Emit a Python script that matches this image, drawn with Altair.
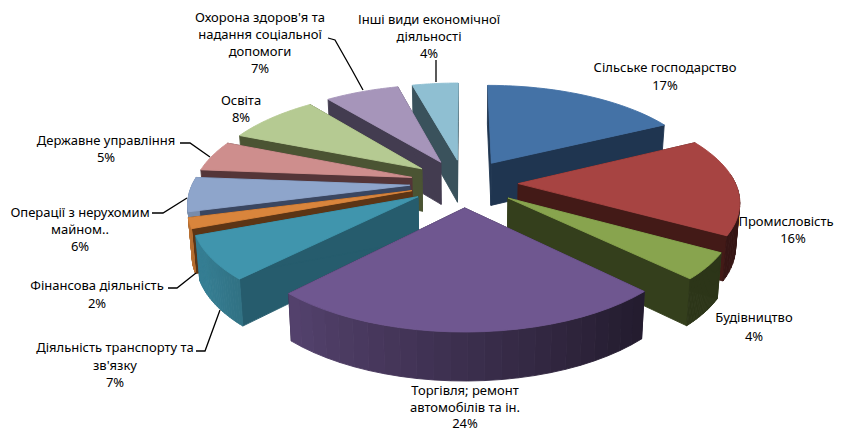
import math
import altair as alt

# data
shares = [17.45, 15.9, 4.25, 24.45, 7.0, 1.7, 5.55, 5.0, 8.15, 6.5, 4.05]
top_colors = ["#4472A6", "#A74442", "#88A44E", "#6F5790", "#4095AD", "#D9853C",
              "#8EA5CB", "#CE8E8D", "#B5CA92", "#A695BA", "#8FBFD2"]
cut_colors = ["#1F3550", "#431A17", "#343F1C", "#2C2440", "#265C6D", "#5C3515",
              "#3A4660", "#543538", "#4B5433", "#433C50", "#3A525C"]
paint_order = [10, 9, 8, 7, 6, 5, 4, 0, 1, 2, 3]

label_lines = ["Сільське господарство", "17%", "Промисловість", "16%", "Будівництво", "4%",
               "Торгівля; ремонт", "автомобілів та ін.", "24%",
               "Діяльність транспорту та", "зв'язку", "7%",
               "Фінансова діяльність", "2%",
               "Операції з нерухомим", "майном..", "6%",
               "Державне управління", "5%", "Освіта", "8%",
               "Охорона здоров'я та", "надання соціальної", "допомоги", "7%",
               "Інші види економічної", "діяльності", "4%"]
label_x = [665, 665, 786, 793, 754, 754,
           465, 465, 465, 115, 115, 115, 97, 97,
           80, 80, 80, 106, 106, 241, 241,
           260, 260, 260, 260, 429, 429, 429]
label_y = [72, 90, 226, 243, 322, 341,
           395, 412, 428, 352, 370, 387, 290, 308,
           217, 234, 251, 145, 162, 105, 122,
           22, 39, 56, 73, 24, 41, 58]
leaders = [[(436, 60), (436, 82)],
           [(328, 38), (335, 40), (352, 70), (363, 90)],
           [(180, 143), (190, 143), (210, 157)],
           [(152, 213), (163, 213), (187, 198)],
           [(168, 288), (177, 288), (196, 273)],
           [(196, 351), (205, 351), (220, 310)]]

# pie geometry
CX, CY, R, RY, K, EXPLODE, DEPTH = 464, 183, 217, 95.8, 0.157, 0.25, 43
OFFSET_X, OFFSET_Y = 8, 8


def project(u, v):
    s = 1 / (1 - K * v)
    return CX + R * u * s, CY + RY * v * s, s


def bottom(u, v):
    x, y, s = project(u, v)
    return CX + (x - CX) * 0.985, y + DEPTH * s ** 0.6


def shade(hex_color, f):
    rgb = [int(hex_color[i:i + 2], 16) for i in (1, 3, 5)]
    return "#%02x%02x%02x" % tuple(int(c * f) for c in rgb)


def feature(points, color):
    ring = [[float(a), float(b)] for a, b in points]
    ring.append(ring[0])
    return {"type": "Feature", "properties": {"c": color},
            "geometry": {"type": "Polygon", "coordinates": [ring]}}


total = sum(shares)
starts = [sum(shares[:i]) / total * 2 * math.pi for i in range(len(shares))]
features = []
for i in paint_order:
    a0 = starts[i]
    a1 = a0 + shares[i] / total * 2 * math.pi
    mid = (a0 + a1) / 2
    ox, oy = EXPLODE * math.sin(mid), -EXPLODE * math.cos(mid)
    n = 24
    arc = [(ox + math.sin(a0 + (a1 - a0) * j / n), oy - math.cos(a0 + (a1 - a0) * j / n))
           for j in range(n + 1)]
    top = [project(ox, oy)[:2]] + [project(*p)[:2] for p in arc]
    # cut faces
    for p in (arc[0], arc[-1]):
        features.append(feature([project(ox, oy)[:2], project(*p)[:2], bottom(*p), bottom(ox, oy)],
                                cut_colors[i]))
    # outer wall, only the part that faces the viewer
    for j in range(n):
        ang = math.degrees(a0 + (a1 - a0) * (j + 0.5) / n)
        if ang < 85 or ang > 275:
            continue
        f = min(0.85, max(0.33, 0.3 + (ang - 133) / 107 * 0.55))
        features.append(feature([project(*arc[j])[:2], project(*arc[j + 1])[:2],
                                 bottom(*arc[j + 1]), bottom(*arc[j])],
                                shade(top_colors[i], f)))
    features.append(feature(top, top_colors[i]))

PROJ = dict(type="identity", scale=1, translate=[-OFFSET_X, -OFFSET_Y])
pie = alt.Chart(alt.Data(values=features)).mark_geoshape(strokeWidth=0.9).encode(
    fill=alt.Fill("properties.c:N", scale=None),
    stroke=alt.Stroke("properties.c:N", scale=None),
).project(**PROJ)

leader_features = [{"type": "Feature", "properties": {},
                    "geometry": {"type": "LineString", "coordinates": [list(p) for p in l]}}
                   for l in leaders]
lead = alt.Chart(alt.Data(values=leader_features)).mark_geoshape(
    filled=False, stroke="#000000", strokeWidth=1.3).project(**PROJ)

rows = [{"t": t, "x": x - OFFSET_X, "y": y - OFFSET_Y} for t, x, y in zip(label_lines, label_x, label_y)]
text = alt.Chart(alt.Data(values=rows)).mark_text(
    font="Noto Sans", fontSize=13, align="center", baseline="alphabetic", color="#000000"
).encode(
    x=alt.X("x:Q", scale=None), y=alt.Y("y:Q", scale=None), text="t:N"
)

chart = alt.layer(pie, lead, text).properties(
    width=826, height=421, padding=0, autosize=alt.AutoSizeParams(type="none")
).configure_view(stroke=None)

chart.save("out.html", embed_options={"renderer": "svg", "actions": False})
